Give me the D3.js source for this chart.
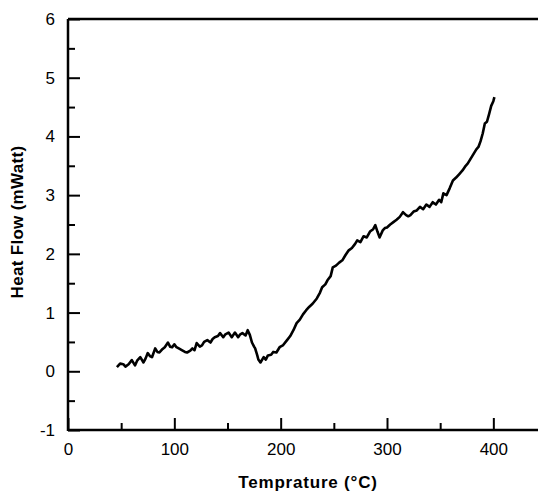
<!DOCTYPE html>
<html>
<head>
<meta charset="utf-8">
<script src="https://d3js.org/d3.v7.min.js"></script>
<style>
  body { margin: 0; background: #fff; }
  svg { display: block; font-family: "Liberation Sans", Arial, sans-serif; }
</style>
</head>
<body>
<svg id="drawing_region"></svg>
<script>
// temperature (°C) and heat flow (mWatt)
const temps = [46,49,52,54,57,60,63,65,68,71,73,75,77,79,82,84,86,89,91,94,96,98,100,102,105,107,110,112,115,117,
  119,121,124,126,128,131,134,136,138,141,143,146,148,151,154,157,160,162,164,167,169,171,173,175,176,178,179,181,184,186,
  188,191,193,196,199,202,206,209,212,215,218,221,224,227,230,234,237,239,242,244,247,249,252,255,258,261,264,267,270,272,
  275,278,281,284,287,289,291,293,296,298,300,303,306,309,312,315,318,320,322,325,328,331,334,337,340,343,346,349,351,353,
  356,359,362,365,368,371,374,376,378,380,382,384,386,388,390,392,394,396,398,400,401];
const heatFlow = [0.07,0.13,0.12,0.08,0.12,0.19,0.10,0.18,0.24,0.15,0.22,0.31,0.26,0.24,0.39,0.33,0.32,0.38,0.41,0.49,0.42,0.41,0.46,0.41,0.38,0.36,0.33,0.32,0.35,0.39,
  0.36,0.48,0.42,0.44,0.50,0.53,0.49,0.55,0.58,0.60,0.65,0.58,0.63,0.66,0.58,0.66,0.58,0.63,0.65,0.61,0.70,0.62,0.49,0.42,0.39,0.27,0.20,0.15,0.24,0.20,
  0.27,0.28,0.33,0.32,0.41,0.44,0.53,0.60,0.70,0.82,0.88,0.97,1.04,1.10,1.15,1.24,1.34,1.43,1.48,1.55,1.62,1.77,1.80,1.85,1.89,1.98,2.06,2.10,2.17,2.23,
  2.20,2.30,2.28,2.38,2.42,2.49,2.38,2.28,2.40,2.44,2.45,2.50,2.54,2.58,2.63,2.71,2.66,2.64,2.66,2.72,2.74,2.80,2.76,2.84,2.80,2.88,2.84,2.92,2.88,3.03,
  3.00,3.12,3.25,3.30,3.36,3.42,3.50,3.54,3.60,3.66,3.72,3.78,3.82,3.92,4.05,4.22,4.25,4.38,4.52,4.60,4.67];
const xTicks = [0,100,200,300,400];
const xMinorTicks = [50,150,250,350];
const yTicks = [-1,0,1,2,3,4,5,6];
const yMinorTicks = [-0.5,0.5,1.5,2.5,3.5,4.5,5.5];

const data = temps.map((t, i) => ({ t: t, v: heatFlow[i] }));

const width = 538, height = 494;
const margin = { top: 19, right: 0, bottom: 64, left: 68 };

const svg = d3.select('#drawing_region')
    .attr('width', width)
    .attr('height', height);

const xscale = d3.scaleLinear()
    .domain([0, 442])
    .range([margin.left, width - margin.right]);
const yscale = d3.scaleLinear()
    .domain([-1, 6])
    .range([height - margin.bottom, margin.top]);

const fmt = d => String(d);

// axes with inward ticks
svg.append('g')
    .attr('transform', `translate(0, ${yscale(-1)})`)
    .call(d3.axisBottom(xscale).tickValues(xTicks).tickFormat(fmt).tickSizeInner(-12).tickSizeOuter(0).tickPadding(13));
svg.append('g')
    .attr('transform', `translate(0, ${yscale(-1)})`)
    .call(d3.axisBottom(xscale).tickValues(xMinorTicks).tickSizeInner(-7).tickSizeOuter(0).tickFormat(''));

svg.append('g')
    .attr('transform', `translate(${xscale(0)}, 0)`)
    .call(d3.axisLeft(yscale).tickValues(yTicks).tickFormat(fmt).tickSizeInner(-12).tickSizeOuter(0).tickPadding(13));
svg.append('g')
    .attr('transform', `translate(${xscale(0)}, 0)`)
    .call(d3.axisLeft(yscale).tickValues(yMinorTicks).tickSizeInner(-7).tickSizeOuter(0).tickFormat(''));

svg.selectAll('.domain').remove();
svg.selectAll('.tick line').attr('stroke', '#000').attr('stroke-width', 2);
svg.selectAll('.tick text')
    .style('font-size', '17px')
    .style('font-family', '"Liberation Sans", Arial, sans-serif')
    .attr('fill', '#000');

// frame: left, bottom and top lines
const frame = [
  [xscale(0), yscale(6), xscale(0), yscale(-1) + 1],
  [xscale(0), yscale(-1), width, yscale(-1)],
  [xscale(0), yscale(6), width, yscale(6)]
];
svg.selectAll('.frame')
    .data(frame)
    .enter()
    .append('line')
    .attr('x1', d => d[0]).attr('y1', d => d[1])
    .attr('x2', d => d[2]).attr('y2', d => d[3])
    .attr('stroke', '#000')
    .attr('stroke-width', 2.5);

// trace
const line = d3.line()
    .x(d => xscale(d.t))
    .y(d => yscale(d.v));
svg.append('path')
    .datum(data)
    .attr('d', line)
    .attr('fill', 'none')
    .attr('stroke', '#000')
    .attr('stroke-width', 2.6)
    .attr('stroke-linejoin', 'round');

// labels
svg.append('text')
    .attr('x', 308)
    .attr('y', 488)
    .attr('text-anchor', 'middle')
    .style('font-size', '17px')
    .style('font-weight', 'bold')
    .style('letter-spacing', '0.8px')
    .text('Temprature (°C)');

svg.append('text')
    .attr('transform', 'rotate(-90)')
    .attr('x', -222)
    .attr('y', 23)
    .attr('text-anchor', 'middle')
    .style('font-size', '17px')
    .style('font-weight', 'bold')
    .style('letter-spacing', '0.3px')
    .text('Heat Flow (mWatt)');
</script>
</body>
</html>
